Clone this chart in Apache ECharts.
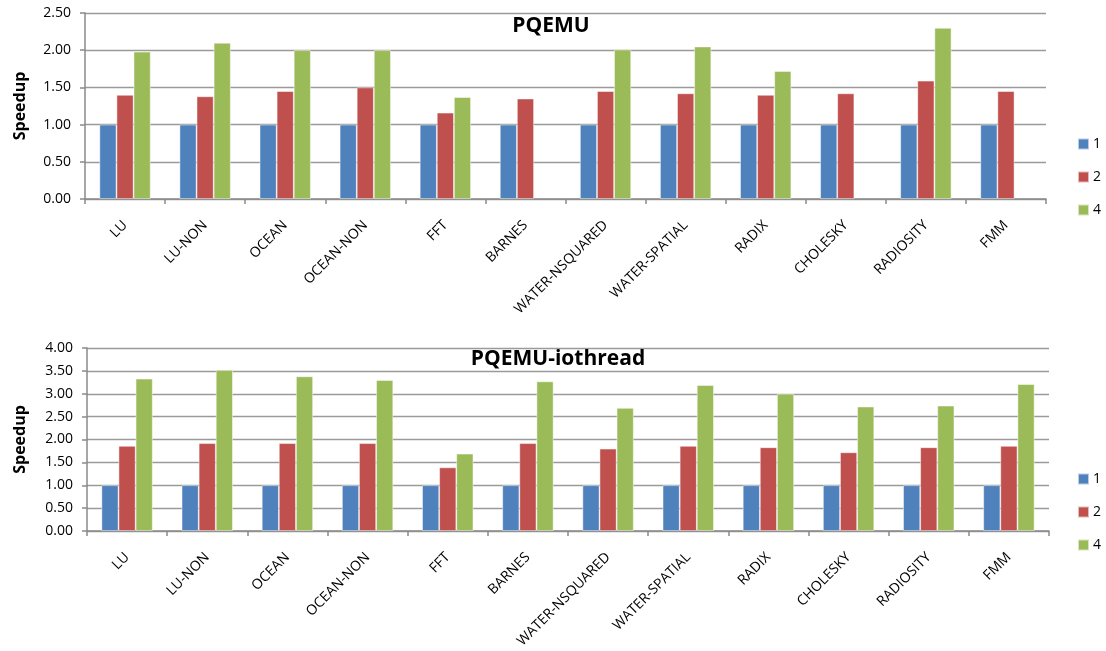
<!DOCTYPE html>
<html>
<head>
<meta charset="utf-8">
<style>
  html, body { margin: 0; padding: 0; background: #fff; }
  #chart { width: 1106px; height: 651px; }
</style>
<script src="https://cdn.jsdelivr.net/npm/echarts@6/dist/echarts.min.js"></script>
</head>
<body>
<div id="chart"></div>
<script>
// SPLASH-2 benchmarks, speedup with 1, 2 and 4 threads
const categories = ['LU', 'LU-NON', 'OCEAN', 'OCEAN-NON', 'FFT', 'BARNES',
  'WATER-NSQUARED', 'WATER-SPATIAL', 'RADIX', 'CHOLESKY', 'RADIOSITY', 'FMM'];

const seriesNames = ['1', '2', '4'];

// PQEMU
const pqemu1 = [1.00, 1.00, 1.00, 1.00, 1.00, 1.00, 1.00, 1.00, 1.00, 1.00, 1.00, 1.00];
const pqemu2 = [1.40, 1.38, 1.45, 1.50, 1.16, 1.35, 1.45, 1.42, 1.40, 1.42, 1.59, 1.45];
const pqemu4 = [1.98, 2.10, 2.00, 2.00, 1.37, null, 2.01, 2.05, 1.72, null, 2.30, null];

// PQEMU-iothread
const io1 = [1.00, 1.00, 1.00, 1.00, 1.00, 1.00, 1.00, 1.00, 1.00, 1.00, 1.00, 1.00];
const io2 = [1.86, 1.92, 1.92, 1.92, 1.39, 1.92, 1.80, 1.86, 1.83, 1.72, 1.83, 1.86];
const io4 = [3.33, 3.52, 3.38, 3.30, 1.69, 3.27, 2.69, 3.19, 3.00, 2.72, 2.74, 3.21];

const topTicks = { min: 0, max: 2.5, interval: 0.5 };
const bottomTicks = { min: 0, max: 4.0, interval: 0.5 };

const colors = ['#4F81BD', '#C0504D', '#9BBB59'];
const FONT = '"Open Sans", "Liberation Sans", sans-serif';

function xAxis(gridIndex) {
  return {
    type: 'category', gridIndex, data: categories,
    axisLine: { lineStyle: { color: '#8a8a8a', width: 1.5 } },
    axisTick: { show: true, length: 5, lineStyle: { color: '#8a8a8a', width: 1.5 } },
    axisLabel: { rotate: 45, color: '#000', fontFamily: FONT, fontSize: 14, interval: 0, margin: 24 }
  };
}

function yAxis(gridIndex, ticks, gap) {
  return {
    type: 'value', gridIndex, min: ticks.min, max: ticks.max, interval: ticks.interval,
    name: 'Speedup', nameLocation: 'middle', nameGap: gap, nameRotate: 90,
    nameTextStyle: { fontFamily: FONT, fontWeight: 'bold', fontSize: 16, color: '#000' },
    axisLine: { show: true, lineStyle: { color: '#8a8a8a', width: 1.5 } },
    axisTick: { show: true, length: 5, lineStyle: { color: '#8a8a8a', width: 1.5 } },
    splitLine: { lineStyle: { color: '#9a9a9a', width: 1.3 } },
    axisLabel: { color: '#000', fontFamily: FONT, fontSize: 14, margin: 14,
      formatter: v => v.toFixed(2) }
  };
}

function bars(values, idx, axisIndex) {
  return {
    type: 'bar', name: seriesNames[idx], data: values,
    xAxisIndex: axisIndex, yAxisIndex: axisIndex,
    barGap: '0%', barCategoryGap: '36%',
    itemStyle: { color: colors[idx], borderColor: 'rgba(255,255,255,0.6)', borderWidth: 0.8 }
  };
}

function legend(top, gap) {
  return {
    orient: 'vertical', left: 1072, top, itemGap: gap,
    itemWidth: 11, itemHeight: 11, icon: 'rect',
    textStyle: { fontFamily: FONT, fontSize: 14, color: '#000', padding: [0, 0, 0, -1] },
    data: seriesNames
  };
}

const chart = echarts.init(document.getElementById('chart'));
chart.setOption({
  animation: false,
  color: colors,
  title: [
    { text: 'PQEMU', left: 546, top: 11, textAlign: 'center',
      textStyle: { fontFamily: FONT, fontWeight: 'bold', fontSize: 21, color: '#000' } },
    { text: 'PQEMU-iothread', left: 553, top: 344, textAlign: 'center',
      textStyle: { fontFamily: FONT, fontWeight: 'bold', fontSize: 21, color: '#000' } }
  ],
  legend: [legend(132, 19), legend(467, 19)],
  grid: [
    { left: 85, right: 60, top: 13, height: 186 },
    { left: 87, right: 57, top: 348, height: 183 }
  ],
  xAxis: [xAxis(0), xAxis(1)],
  yAxis: [yAxis(0, topTicks, 57), yAxis(1, bottomTicks, 59)],
  series: [
    bars(pqemu1, 0, 0), bars(pqemu2, 1, 0), bars(pqemu4, 2, 0),
    bars(io1, 0, 1), bars(io2, 1, 1), bars(io4, 2, 1)
  ]
});
</script>
</body>
</html>
